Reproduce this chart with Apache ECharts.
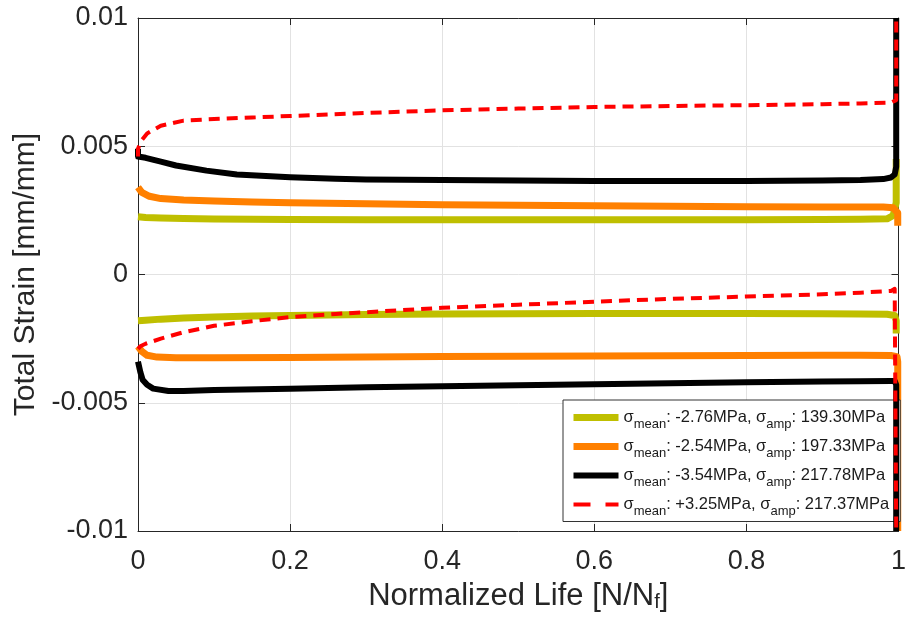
<!DOCTYPE html>
<html>
<head>
<meta charset="utf-8">
<script src="https://cdn.jsdelivr.net/npm/echarts@6/dist/echarts.min.js"></script>
<style>html,body{margin:0;padding:0;background:#fff;}#c{width:909px;height:625px;}</style>
</head>
<body>
<div id="c"></div>
<script>
// ---- Data (normalized life N/Nf vs total strain) ----
// Test 1: sigma_mean -2.76 MPa, sigma_amp 139.30 MPa (olive)
const yuX = [0, 0.01, 0.03, 0.06, 0.1, 0.2, 0.3, 0.4, 0.5, 0.6, 0.7, 0.8, 0.9, 0.95, 0.985, 0.993, 0.997, 0.997];
const yuY = [0.00225, 0.00222, 0.0022, 0.00218, 0.00216, 0.00214, 0.00213, 0.00213, 0.00213, 0.00213, 0.00213, 0.00213, 0.00214, 0.00215, 0.00217, 0.0023, 0.0028, 0.0045];
const ylX = [0, 0.01, 0.03, 0.06, 0.1, 0.15, 0.2, 0.3, 0.4, 0.5, 0.6, 0.7, 0.8, 0.9, 0.95, 0.985, 0.995, 0.997, 0.997];
const ylY = [-0.0018, -0.00178, -0.00174, -0.0017, -0.00166, -0.00162, -0.0016, -0.00156, -0.00154, -0.00153, -0.00152, -0.00152, -0.00152, -0.00153, -0.00154, -0.00155, -0.0016, -0.0018, -0.0023];
// Test 2: sigma_mean -2.54 MPa, sigma_amp 197.33 MPa (orange)
const ouX = [0, 0.005, 0.015, 0.03, 0.06, 0.1, 0.15, 0.2, 0.3, 0.4, 0.5, 0.6, 0.7, 0.8, 0.9, 0.95, 0.98, 0.993, 0.999, 0.999];
const ouY = [0.0034, 0.0032, 0.00305, 0.00296, 0.0029, 0.00287, 0.00283, 0.0028, 0.00276, 0.00272, 0.0027, 0.00268, 0.00266, 0.00264, 0.00263, 0.00263, 0.00263, 0.0026, 0.0024, 0.0019];
const olX = [0, 0.005, 0.012, 0.025, 0.05, 0.1, 0.2, 0.3, 0.4, 0.5, 0.6, 0.7, 0.8, 0.9, 0.95, 0.99, 0.998, 0.999, 0.999];
const olY = [-0.0028, -0.003, -0.00315, -0.00322, -0.00325, -0.00325, -0.00324, -0.00322, -0.0032, -0.00319, -0.00318, -0.00317, -0.00316, -0.00315, -0.00315, -0.00316, -0.0032, -0.0034, -0.01];
// Test 3: sigma_mean -3.54 MPa, sigma_amp 217.78 MPa (black)
const buX = [0, 0, 0.01, 0.03, 0.05, 0.09, 0.13, 0.2, 0.26, 0.3, 0.4, 0.5, 0.6, 0.7, 0.8, 0.9, 0.95, 0.98, 0.99, 0.995, 0.997, 0.997];
const buY = [0.0049, 0.0046, 0.00455, 0.0044, 0.00425, 0.00405, 0.0039, 0.00379, 0.00373, 0.0037, 0.00368, 0.00366, 0.00365, 0.00365, 0.00365, 0.00366, 0.00368, 0.00372, 0.00378, 0.0039, 0.0042, 0.01];
const blX = [0, 0.003, 0.006, 0.012, 0.02, 0.04, 0.06, 0.1, 0.2, 0.3, 0.4, 0.5, 0.6, 0.7, 0.8, 0.9, 0.95, 0.99, 0.995, 0.997, 0.997];
const blY = [-0.0034, -0.0038, -0.0041, -0.0043, -0.00445, -0.00454, -0.00454, -0.0045, -0.00445, -0.0044, -0.00436, -0.00432, -0.00428, -0.00424, -0.0042, -0.00417, -0.00416, -0.00415, -0.00415, -0.0043, -0.01];
// Test 4: sigma_mean +3.25 MPa, sigma_amp 217.37 MPa (red dashed)
const ruX = [0, 0, 0.004, 0.012, 0.03, 0.06, 0.1, 0.15, 0.2, 0.3, 0.4, 0.5, 0.6, 0.7, 0.8, 0.9, 0.95, 0.99, 0.997, 0.997];
const ruY = [0.0046, 0.0049, 0.0052, 0.0055, 0.0058, 0.006, 0.00606, 0.00612, 0.00618, 0.0063, 0.0064, 0.00647, 0.00653, 0.00657, 0.0066, 0.00664, 0.00667, 0.0067, 0.0068, 0.01];
const rlX = [0, 0.003, 0.01, 0.03, 0.06, 0.1, 0.15, 0.2, 0.26, 0.3, 0.4, 0.5, 0.6, 0.7, 0.8, 0.9, 0.95, 0.99, 0.995, 0.997, 0.997];
const rlY = [-0.0029, -0.0028, -0.0027, -0.0025, -0.00225, -0.002, -0.00182, -0.00166, -0.00154, -0.00147, -0.0013, -0.00118, -0.00106, -0.00095, -0.00086, -0.00077, -0.00071, -0.00064, -0.00056, -0.0006, -0.01];

// Legend texts
const meanLabels = ['-2.76', '-2.54', '-3.54', '+3.25'];
const ampLabels = ['139.30', '197.33', '217.78', '217.37'];
const seriesColors = ['#bfbf00', '#ff8000', '#000000', '#ff0000'];
const seriesNames = meanLabels.map((m, i) => 'σmean: ' + m + 'MPa, σamp: ' + ampLabels[i] + 'MPa');

const zip = (xs, ys) => xs.map((x, i) => [x, ys[i]]);
const curves = [
  [yuX, yuY, ylX, ylY],
  [ouX, ouY, olX, olY],
  [buX, buY, blX, blY],
  [ruX, ruY, rlX, rlY]
];
const widths = [7, 7, 6, 4];

const series = [];
curves.forEach((c, i) => {
  const lineStyle = { color: seriesColors[i], width: widths[i], cap: 'butt', join: 'round' };
  if (i === 3) lineStyle.type = [11, 7];
  [[c[0], c[1]], [c[2], c[3]]].forEach(p => {
    series.push({
      name: seriesNames[i], type: 'line', data: zip(p[0], p[1]),
      symbol: 'none', showSymbol: false, smooth: false, clip: true,
      itemStyle: { color: seriesColors[i] }, lineStyle: lineStyle,
      z: 2 + i, animation: false
    });
  });
});

const legendData = seriesNames.map((n, i) => i === 3
  ? { name: n, lineStyle: { type: [17, 15], width: 4, color: seriesColors[i], cap: 'butt' } }
  : { name: n });

const axisColor = '#262626';
const font = '"Liberation Sans", Arial, sans-serif';
const chart = echarts.init(document.getElementById('c'), null, { renderer: 'canvas' });
chart.setOption({
  backgroundColor: '#ffffff',
  animation: false,
  grid: { left: 138, right: 3, top: 18, bottom: 94, containLabel: false },
  xAxis: [{
    type: 'value', min: 0, max: 1, interval: 0.2, position: 'bottom',
    axisLine: { show: true, onZero: false, lineStyle: { color: axisColor, width: 1 } },
    axisTick: { show: true, inside: true, length: 7, lineStyle: { color: axisColor } },
    splitLine: { show: true, lineStyle: { color: '#e2e2e2', width: 1 } },
    axisLabel: { color: axisColor, fontFamily: font, fontSize: 27, margin: 17 },
    name: 'Normalized Life [N/N{f|f}]', nameLocation: 'middle', nameGap: 50,
    nameTextStyle: {
      color: axisColor, fontFamily: font, fontSize: 31,
      rich: { f: { fontSize: 20, fontFamily: font, color: axisColor, verticalAlign: 'bottom', lineHeight: 14 } }
    }
  }, {
    type: 'value', min: 0, max: 1, interval: 0.2, position: 'top',
    axisLine: { show: true, onZero: false, lineStyle: { color: axisColor, width: 1 } },
    axisTick: { show: true, inside: true, length: 7, lineStyle: { color: axisColor } },
    splitLine: { show: false }, axisLabel: { show: false }
  }],
  yAxis: [{
    type: 'value', min: -0.01, max: 0.01, interval: 0.005, position: 'left',
    axisLine: { show: true, onZero: false, lineStyle: { color: axisColor, width: 1 } },
    axisTick: { show: true, inside: true, length: 7, lineStyle: { color: axisColor } },
    splitLine: { show: true, lineStyle: { color: '#e2e2e2', width: 1 } },
    axisLabel: { color: axisColor, fontFamily: font, fontSize: 27, margin: 10 },
    name: 'Total Strain [mm/mm]', nameLocation: 'middle', nameGap: 87,
    nameTextStyle: { color: axisColor, fontFamily: font, fontSize: 30 }
  }, {
    type: 'value', min: -0.01, max: 0.01, interval: 0.005, position: 'right',
    axisLine: { show: true, onZero: false, lineStyle: { color: axisColor, width: 1 } },
    axisTick: { show: true, inside: true, length: 7, lineStyle: { color: axisColor } },
    splitLine: { show: false }, axisLabel: { show: false }
  }],
  legend: {
    show: true, orient: 'vertical', left: 563, top: 400,
    data: legendData,
    itemWidth: 45, itemHeight: 14, itemGap: 7.5,
    backgroundColor: '#ffffff', borderColor: '#333333', borderWidth: 1, borderRadius: 0,
    padding: [9, 11, 4, 7],
    selectedMode: false,
    itemStyle: { opacity: 0, borderWidth: 0 },
    lineStyle: { width: 'inherit', type: 'inherit', cap: 'butt' },
    formatter: function (name) {
      const i = seriesNames.indexOf(name);
      return '{s|σ}{sub|mean}{s|: ' + meanLabels[i] + 'MPa, σ}{sub|amp}{s|: ' + ampLabels[i] + 'MPa}';
    },
    textStyle: {
      color: '#1a1a1a', fontFamily: font, fontSize: 16.5,
      rich: {
        s: { fontSize: 16.5, lineHeight: 26, color: '#1a1a1a', fontFamily: font },
        sub: { fontSize: 13, lineHeight: 10, verticalAlign: 'bottom', color: '#1a1a1a', fontFamily: font }
      }
    }
  },
  series: series
});
</script>
</body>
</html>
